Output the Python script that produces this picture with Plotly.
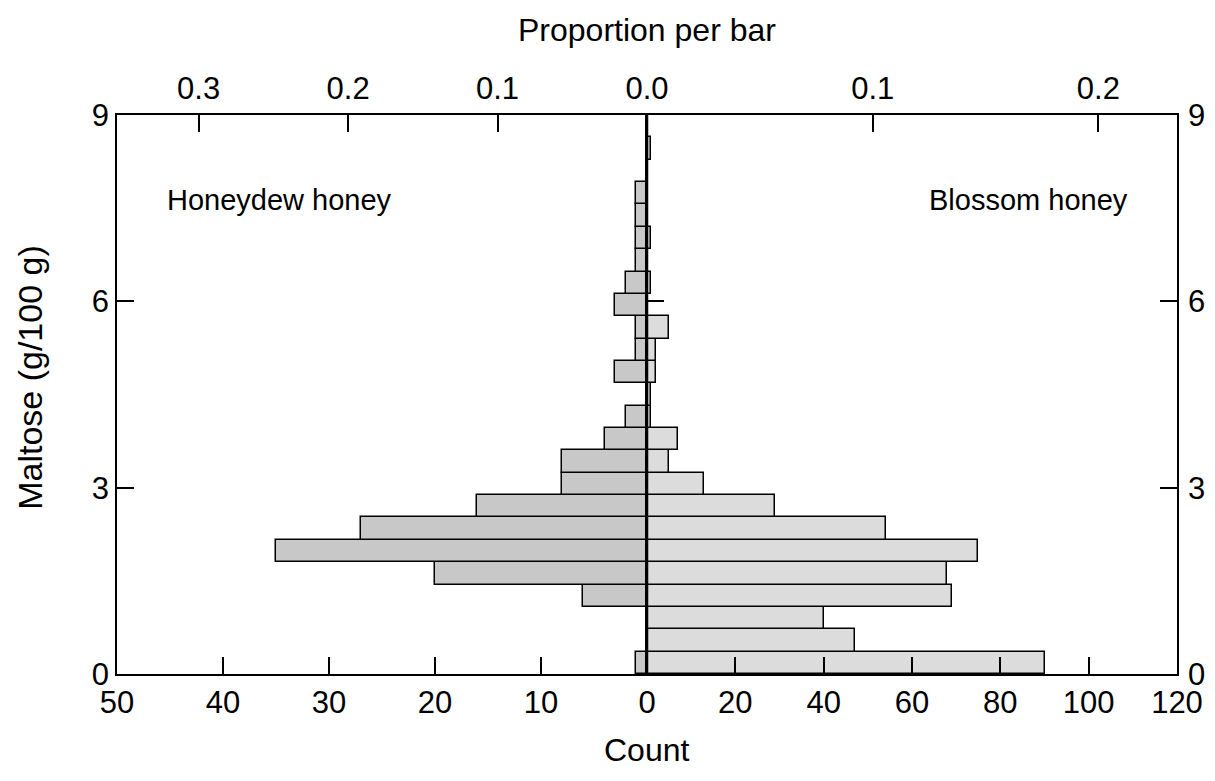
import plotly.graph_objects as go

# maltose bins, 0.36 g/100 g wide, from 0 to 9
BIN_WIDTH = 0.36
bin_centers = [round(BIN_WIDTH * (i + 0.5), 3) for i in range(25)]

# counts per bin, bottom to top
honeydew = [1, 0, 0, 6, 20, 35, 27, 16, 8, 8, 4, 2, 0, 3, 1, 1, 3, 2, 1, 1, 1, 1, 0, 0, 0]
blossom = [90, 47, 40, 69, 68, 75, 54, 29, 13, 5, 7, 1, 1, 2, 2, 5, 0, 1, 0, 1, 0, 0, 0, 1, 0]

n_honeydew = sum(honeydew)
n_blossom = sum(blossom)

left_ticks = [0, 10, 20, 30, 40, 50]
right_ticks = [0, 20, 40, 60, 80, 100, 120]
y_ticks = [0, 3, 6, 9]
prop_left = [0.0, 0.1, 0.2, 0.3]
prop_right = [0.0, 0.1, 0.2]

FONT = "Liberation Sans, Arial, sans-serif"
TICK_SIZE = 31
LW = 1.5

fig = go.Figure()

fig.add_trace(go.Bar(y=bin_centers, x=honeydew, orientation="h", width=BIN_WIDTH,
                     marker=dict(color="#c8c8c8", line=dict(color="black", width=LW)),
                     xaxis="x", yaxis="y", showlegend=False, hoverinfo="skip"))
fig.add_trace(go.Bar(y=bin_centers, x=blossom, orientation="h", width=BIN_WIDTH,
                     marker=dict(color="#dcdcdc", line=dict(color="black", width=LW)),
                     xaxis="x2", yaxis="y2", showlegend=False, hoverinfo="skip"))
# empty traces so the extra axes get drawn
for xa, ya in [("x3", "y"), ("x4", "y2"), ("x2", "y3")]:
    fig.add_trace(go.Scatter(x=[None], y=[None], xaxis=xa, yaxis=ya,
                             showlegend=False, hoverinfo="skip"))

axis_common = dict(showline=True, linecolor="black", linewidth=LW, ticks="inside",
                   ticklen=17, tickwidth=LW, tickcolor="black", showgrid=False,
                   zeroline=False, automargin=False,
                   tickfont=dict(size=TICK_SIZE, color="black", family=FONT))

# page body adds 8px all round, figure sized so nothing overflows the window
fig.update_layout(
    width=1199, height=765,
    margin=dict(l=109, r=30, t=107, b=99),
    plot_bgcolor="white", paper_bgcolor="white",
    bargap=0,
    font=dict(family=FONT, color="black"),
    xaxis=dict(domain=[0, 0.5], range=[50, 0], anchor="y", side="bottom",
               tickvals=left_ticks, ticklabelstandoff=0, **axis_common),
    xaxis2=dict(domain=[0.5, 1], range=[0, 120], anchor="y2", side="bottom",
                tickvals=right_ticks, ticktext=[""] + [str(t) for t in right_ticks[1:]],
                ticklabelstandoff=0, **axis_common),
    xaxis3=dict(overlaying="x", range=[50 / n_honeydew, 0], anchor="y", side="top",
                tickvals=prop_left, ticktext=["%.1f" % v for v in prop_left],
                ticklabelstandoff=2, **axis_common),
    xaxis4=dict(overlaying="x2", range=[0, 120 / n_blossom], anchor="y2", side="top",
                tickvals=prop_right, ticktext=[""] + ["%.1f" % v for v in prop_right[1:]],
                ticklabelstandoff=2, **axis_common),
    yaxis=dict(domain=[0, 1], range=[0, 9], anchor="x", side="left",
               tickvals=y_ticks, ticklabelstandoff=0, **axis_common),
    yaxis2=dict(matches="y", range=[0, 9], anchor="x2", side="left",
                tickvals=y_ticks, showticklabels=False, layer="below traces",
                **axis_common),
    yaxis3=dict(overlaying="y2", range=[0, 9], anchor="x2", side="right",
                tickvals=y_ticks, ticklabelstandoff=3, **axis_common),
)

# central zero line on top of the bars
fig.add_shape(type="line", xref="x2", yref="y2", x0=0, x1=0, y0=0, y1=9,
              line=dict(color="black", width=2.5), layer="above")

fig.add_annotation(text="Honeydew honey", x=34.7, y=7.63, xref="x", yref="y",
                   showarrow=False, font=dict(size=29))
fig.add_annotation(text="Blossom honey", x=86.4, y=7.63, xref="x2", yref="y2",
                   showarrow=False, font=dict(size=29))
fig.add_annotation(text="Proportion per bar", x=0.5, y=1.152, xref="paper", yref="paper",
                   showarrow=False, yanchor="middle", font=dict(size=32))
fig.add_annotation(text="Count", x=0.5, y=-0.136, xref="paper", yref="paper",
                   showarrow=False, yanchor="middle", font=dict(size=32))
fig.add_annotation(text="Maltose (g/100 g)", x=-0.082, y=0.53, xref="paper", yref="paper",
                   showarrow=False, textangle=-90, xanchor="center", yanchor="middle",
                   font=dict(size=34))

fig.write_html("out.html")
